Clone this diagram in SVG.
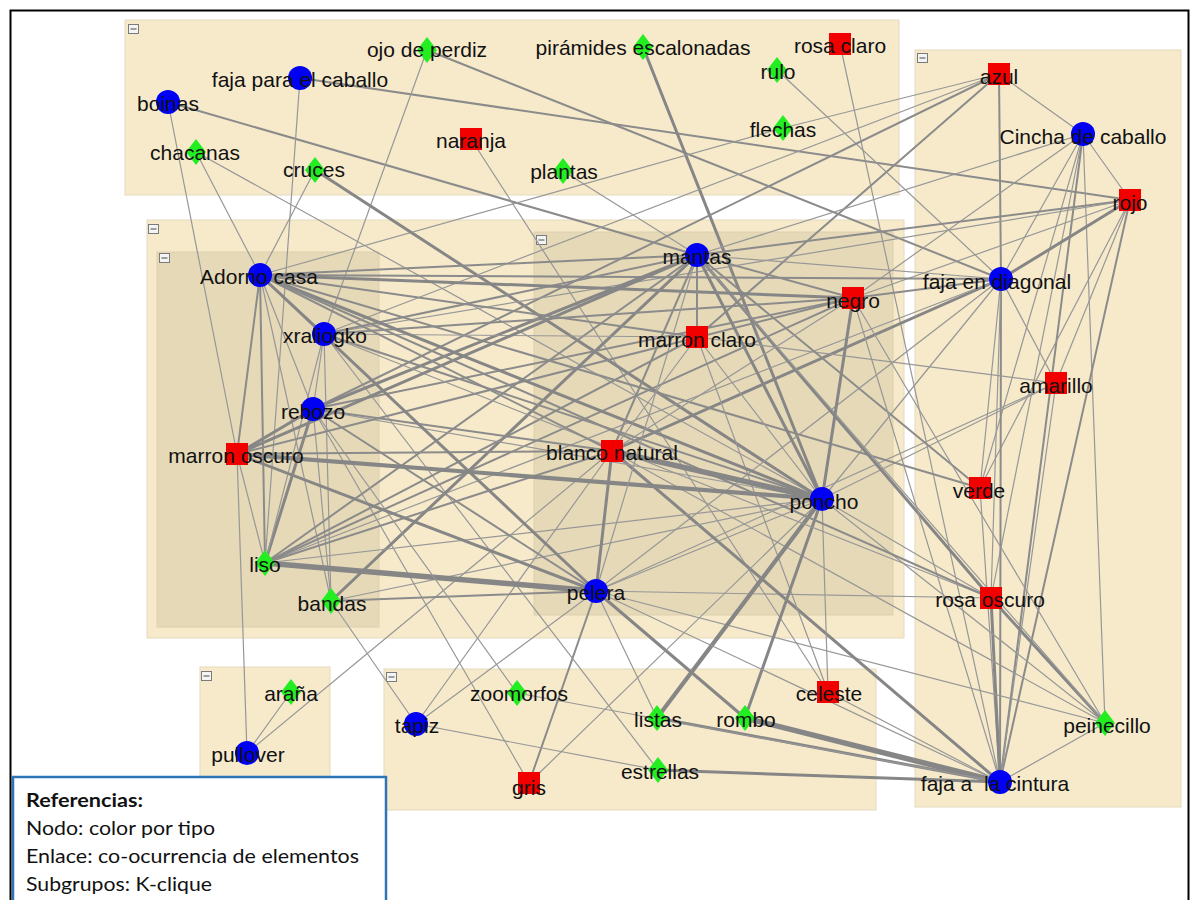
<svg xmlns="http://www.w3.org/2000/svg" xmlns:xlink="http://www.w3.org/1999/xlink" width="1191" height="900" viewBox="0 0 1191 900">
  <style>
    .grp { fill: #F6EACB; stroke: #E6DABD; stroke-width: 1; }
    .sub { fill: #E6D9B8; stroke: #DCCFAE; stroke-width: 1; }
    .ico { fill: #F4F4F4; stroke: #7A7A7A; stroke-width: 1; }
    .icoline { stroke: #666; stroke-width: 1.2; }
    #edges line { stroke-linecap: round; }
    .t { stroke: #979797; stroke-width: 1.2; }
    .m { stroke: #8B8B8B; stroke-width: 2; }
    .k { stroke: #868686; stroke-width: 3; }
    .h { stroke: #868686; stroke-width: 4.2; }
    .x { stroke: #868686; stroke-width: 5.5; }
    .lbl { font-family: "Liberation Sans", Arial, sans-serif; font-size: 21px; fill: #111; text-anchor: middle; }
    .leg { font-family: Lato, "Open Sans", sans-serif; font-size: 19px; fill: #111; }
  </style>
  <defs>
    <circle id="c" r="12" fill="#0000F5"/>
    <rect id="s" x="-11" y="-11" width="22" height="22" fill="#F20000"/>
    <polygon id="d" points="0,-13 10,0 0,13 -10,0" fill="#22EE22"/>
    <g id="ic">
      <rect class="ico" x="0.5" y="0.5" width="10" height="9"/>
      <line class="icoline" x1="2.5" y1="5" x2="8.5" y2="5"/>
    </g>
  </defs>

  <rect width="1191" height="900" fill="#FFFFFF"/>

  <!-- subgroup boxes -->
  <g id="groups">
    <rect class="grp" x="125" y="20" width="774" height="175"/>
    <use xlink:href="#ic" x="128" y="24"/>
    <rect class="grp" x="147" y="220" width="757" height="418"/>
    <use xlink:href="#ic" x="148" y="224"/>
    <rect class="sub" x="157" y="252" width="222" height="375"/>
    <use xlink:href="#ic" x="159" y="253"/>
    <rect class="sub" x="534" y="232" width="359" height="383"/>
    <use xlink:href="#ic" x="536" y="235"/>
    <rect class="grp" x="915" y="50" width="266" height="757"/>
    <use xlink:href="#ic" x="917" y="53"/>
    <rect class="grp" x="200" y="667" width="130" height="120"/>
    <use xlink:href="#ic" x="201" y="671"/>
    <rect class="grp" x="384" y="669" width="492" height="141"/>
    <use xlink:href="#ic" x="386" y="672"/>
  </g>

  <!-- co-occurrence links -->
  <g id="edges">
    <line x1="168" y1="102" x2="237" y2="454" class="t"/>
    <line x1="168" y1="102" x2="697" y2="255" class="m"/>
    <line x1="196" y1="152" x2="260" y2="275" class="t"/>
    <line x1="196" y1="152" x2="822" y2="499" class="t"/>
    <line x1="300" y1="78" x2="265" y2="563" class="t"/>
    <line x1="300" y1="78" x2="1130" y2="200" class="m"/>
    <line x1="427" y1="50" x2="324" y2="334" class="t"/>
    <line x1="427" y1="50" x2="1001" y2="279" class="m"/>
    <line x1="643" y1="47" x2="822" y2="499" class="k"/>
    <line x1="840" y1="44" x2="1000" y2="782" class="t"/>
    <line x1="777" y1="70" x2="1001" y2="279" class="t"/>
    <line x1="783" y1="128" x2="260" y2="275" class="t"/>
    <line x1="783" y1="128" x2="999" y2="74" class="t"/>
    <line x1="563" y1="171" x2="697" y2="255" class="t"/>
    <line x1="471" y1="139" x2="828" y2="692" class="t"/>
    <line x1="315" y1="170" x2="260" y2="275" class="t"/>
    <line x1="315" y1="170" x2="822" y2="499" class="k"/>
    <line x1="999" y1="74" x2="1001" y2="279" class="m"/>
    <line x1="999" y1="74" x2="1083" y2="134" class="t"/>
    <line x1="999" y1="74" x2="324" y2="334" class="t"/>
    <line x1="999" y1="74" x2="313" y2="409" class="m"/>
    <line x1="999" y1="74" x2="697" y2="337" class="m"/>
    <line x1="1083" y1="134" x2="1130" y2="200" class="t"/>
    <line x1="1083" y1="134" x2="1001" y2="279" class="t"/>
    <line x1="1083" y1="134" x2="697" y2="255" class="t"/>
    <line x1="1083" y1="134" x2="980" y2="488" class="t"/>
    <line x1="1083" y1="134" x2="991" y2="598" class="t"/>
    <line x1="1083" y1="134" x2="1000" y2="782" class="m"/>
    <line x1="1083" y1="134" x2="1105" y2="723" class="t"/>
    <line x1="1083" y1="134" x2="853" y2="298" class="t"/>
    <line x1="1130" y1="200" x2="1001" y2="279" class="k"/>
    <line x1="1130" y1="200" x2="697" y2="255" class="m"/>
    <line x1="1130" y1="200" x2="324" y2="334" class="t"/>
    <line x1="1130" y1="200" x2="853" y2="298" class="t"/>
    <line x1="1130" y1="200" x2="1000" y2="782" class="m"/>
    <line x1="1130" y1="200" x2="980" y2="488" class="t"/>
    <line x1="1130" y1="200" x2="1056" y2="383" class="t"/>
    <line x1="1001" y1="279" x2="1000" y2="782" class="m"/>
    <line x1="1001" y1="279" x2="1056" y2="383" class="t"/>
    <line x1="1001" y1="279" x2="980" y2="488" class="t"/>
    <line x1="1001" y1="279" x2="991" y2="598" class="t"/>
    <line x1="1001" y1="279" x2="853" y2="298" class="m"/>
    <line x1="1001" y1="279" x2="612" y2="451" class="k"/>
    <line x1="1001" y1="279" x2="697" y2="255" class="t"/>
    <line x1="1001" y1="279" x2="260" y2="275" class="m"/>
    <line x1="1001" y1="279" x2="265" y2="563" class="t"/>
    <line x1="1001" y1="279" x2="822" y2="499" class="t"/>
    <line x1="1001" y1="279" x2="596" y2="591" class="t"/>
    <line x1="1056" y1="383" x2="1000" y2="782" class="t"/>
    <line x1="1056" y1="383" x2="697" y2="337" class="t"/>
    <line x1="1056" y1="383" x2="596" y2="591" class="t"/>
    <line x1="1056" y1="383" x2="822" y2="499" class="t"/>
    <line x1="260" y1="275" x2="980" y2="488" class="m"/>
    <line x1="697" y1="255" x2="980" y2="488" class="m"/>
    <line x1="980" y1="488" x2="1000" y2="782" class="t"/>
    <line x1="596" y1="591" x2="991" y2="598" class="t"/>
    <line x1="697" y1="255" x2="991" y2="598" class="k"/>
    <line x1="991" y1="598" x2="1105" y2="723" class="k"/>
    <line x1="991" y1="598" x2="1000" y2="782" class="k"/>
    <line x1="1105" y1="723" x2="596" y2="591" class="t"/>
    <line x1="1105" y1="723" x2="822" y2="499" class="t"/>
    <line x1="1105" y1="723" x2="697" y2="255" class="t"/>
    <line x1="1105" y1="723" x2="612" y2="451" class="t"/>
    <line x1="1105" y1="723" x2="1000" y2="782" class="t"/>
    <line x1="853" y1="298" x2="1105" y2="723" class="t"/>
    <line x1="853" y1="298" x2="1000" y2="782" class="t"/>
    <line x1="612" y1="451" x2="1000" y2="782" class="k"/>
    <line x1="657" y1="718" x2="1000" y2="782" class="k"/>
    <line x1="745" y1="718" x2="1000" y2="782" class="x"/>
    <line x1="658" y1="770" x2="1000" y2="782" class="k"/>
    <line x1="828" y1="692" x2="1000" y2="782" class="t"/>
    <line x1="517" y1="693" x2="1000" y2="782" class="t"/>
    <line x1="697" y1="337" x2="828" y2="692" class="t"/>
    <line x1="822" y1="499" x2="828" y2="692" class="t"/>
    <line x1="822" y1="499" x2="657" y2="718" class="h"/>
    <line x1="822" y1="499" x2="745" y2="718" class="k"/>
    <line x1="596" y1="591" x2="745" y2="718" class="k"/>
    <line x1="596" y1="591" x2="529" y2="783" class="m"/>
    <line x1="529" y1="783" x2="822" y2="499" class="t"/>
    <line x1="529" y1="783" x2="313" y2="409" class="t"/>
    <line x1="324" y1="334" x2="658" y2="770" class="t"/>
    <line x1="416" y1="724" x2="658" y2="770" class="t"/>
    <line x1="331" y1="601" x2="416" y2="724" class="t"/>
    <line x1="416" y1="724" x2="596" y2="591" class="t"/>
    <line x1="416" y1="724" x2="612" y2="451" class="t"/>
    <line x1="237" y1="454" x2="247" y2="753" class="t"/>
    <line x1="247" y1="753" x2="291" y2="692" class="t"/>
    <line x1="247" y1="753" x2="612" y2="451" class="t"/>
    <line x1="331" y1="601" x2="260" y2="275" class="t"/>
    <line x1="331" y1="601" x2="697" y2="255" class="k"/>
    <line x1="331" y1="601" x2="596" y2="591" class="m"/>
    <line x1="331" y1="601" x2="313" y2="409" class="t"/>
    <line x1="331" y1="601" x2="324" y2="334" class="t"/>
    <line x1="331" y1="601" x2="822" y2="499" class="t"/>
    <line x1="265" y1="563" x2="596" y2="591" class="x"/>
    <line x1="265" y1="563" x2="697" y2="255" class="m"/>
    <line x1="265" y1="563" x2="313" y2="409" class="k"/>
    <line x1="265" y1="563" x2="260" y2="275" class="m"/>
    <line x1="265" y1="563" x2="237" y2="454" class="t"/>
    <line x1="265" y1="563" x2="324" y2="334" class="t"/>
    <line x1="265" y1="563" x2="853" y2="298" class="m"/>
    <line x1="265" y1="563" x2="822" y2="499" class="t"/>
    <line x1="265" y1="563" x2="612" y2="451" class="m"/>
    <line x1="265" y1="563" x2="697" y2="337" class="m"/>
    <line x1="313" y1="409" x2="260" y2="275" class="t"/>
    <line x1="313" y1="409" x2="324" y2="334" class="t"/>
    <line x1="313" y1="409" x2="237" y2="454" class="k"/>
    <line x1="313" y1="409" x2="697" y2="255" class="k"/>
    <line x1="313" y1="409" x2="596" y2="591" class="m"/>
    <line x1="313" y1="409" x2="822" y2="499" class="t"/>
    <line x1="313" y1="409" x2="517" y2="693" class="t"/>
    <line x1="313" y1="409" x2="612" y2="451" class="m"/>
    <line x1="313" y1="409" x2="853" y2="298" class="m"/>
    <line x1="324" y1="334" x2="260" y2="275" class="m"/>
    <line x1="324" y1="334" x2="697" y2="255" class="m"/>
    <line x1="324" y1="334" x2="853" y2="298" class="m"/>
    <line x1="324" y1="334" x2="697" y2="337" class="t"/>
    <line x1="324" y1="334" x2="822" y2="499" class="m"/>
    <line x1="324" y1="334" x2="991" y2="598" class="t"/>
    <line x1="237" y1="454" x2="260" y2="275" class="m"/>
    <line x1="237" y1="454" x2="697" y2="255" class="k"/>
    <line x1="237" y1="454" x2="822" y2="499" class="h"/>
    <line x1="237" y1="454" x2="596" y2="591" class="k"/>
    <line x1="237" y1="454" x2="612" y2="451" class="m"/>
    <line x1="237" y1="454" x2="853" y2="298" class="m"/>
    <line x1="260" y1="275" x2="853" y2="298" class="k"/>
    <line x1="260" y1="275" x2="697" y2="255" class="m"/>
    <line x1="260" y1="275" x2="697" y2="337" class="m"/>
    <line x1="260" y1="275" x2="612" y2="451" class="m"/>
    <line x1="260" y1="275" x2="822" y2="499" class="k"/>
    <line x1="260" y1="275" x2="596" y2="591" class="k"/>
    <line x1="260" y1="275" x2="991" y2="598" class="m"/>
    <line x1="612" y1="451" x2="697" y2="255" class="m"/>
    <line x1="612" y1="451" x2="822" y2="499" class="x"/>
    <line x1="612" y1="451" x2="596" y2="591" class="k"/>
    <line x1="612" y1="451" x2="697" y2="337" class="t"/>
    <line x1="612" y1="451" x2="853" y2="298" class="t"/>
    <line x1="697" y1="255" x2="853" y2="298" class="m"/>
    <line x1="697" y1="255" x2="697" y2="337" class="m"/>
    <line x1="697" y1="255" x2="822" y2="499" class="k"/>
    <line x1="697" y1="255" x2="596" y2="591" class="t"/>
    <line x1="853" y1="298" x2="822" y2="499" class="k"/>
    <line x1="697" y1="337" x2="822" y2="499" class="t"/>
    <line x1="822" y1="499" x2="991" y2="598" class="t"/>
    <line x1="822" y1="499" x2="596" y2="591" class="t"/>
    <line x1="596" y1="591" x2="657" y2="718" class="t"/>
    <line x1="596" y1="591" x2="1000" y2="782" class="t"/>
  </g>

  <!-- nodes: blue = object, red = colour, green = motif -->
  <g id="n-boinas"><use xlink:href="#c" x="168" y="102"/><text class="lbl" x="168" y="111">boinas</text></g>
  <g id="n-faja-caballo"><use xlink:href="#c" x="300" y="78"/><text class="lbl" x="300" y="87">faja para el caballo</text></g>
  <g id="n-ojo-perdiz"><use xlink:href="#d" x="427" y="50"/><text class="lbl" x="427" y="57">ojo de perdiz</text></g>
  <g id="n-piramides"><use xlink:href="#d" x="643" y="47"/><text class="lbl" x="643" y="55">pirámides escalonadas</text></g>
  <g id="n-rosa-claro"><use xlink:href="#s" x="840" y="44"/><text class="lbl" x="840" y="53">rosa claro</text></g>
  <g id="n-rulo"><use xlink:href="#d" x="777" y="70"/><text class="lbl" x="778" y="79">rulo</text></g>
  <g id="n-flechas"><use xlink:href="#d" x="783" y="128"/><text class="lbl" x="783" y="137">flechas</text></g>
  <g id="n-naranja"><use xlink:href="#s" x="471" y="139"/><text class="lbl" x="471" y="148">naranja</text></g>
  <g id="n-plantas"><use xlink:href="#d" x="563" y="171"/><text class="lbl" x="564" y="179">plantas</text></g>
  <g id="n-chacanas"><use xlink:href="#d" x="196" y="152"/><text class="lbl" x="195" y="160">chacanas</text></g>
  <g id="n-cruces"><use xlink:href="#d" x="315" y="170"/><text class="lbl" x="314" y="177">cruces</text></g>

  <g id="n-azul"><use xlink:href="#s" x="999" y="74"/><text class="lbl" x="999" y="84">azul</text></g>
  <g id="n-cincha"><use xlink:href="#c" x="1083" y="134"/><text class="lbl" x="1083" y="144">Cincha de caballo</text></g>
  <g id="n-rojo"><use xlink:href="#s" x="1130" y="200"/><text class="lbl" x="1130" y="210">rojo</text></g>
  <g id="n-faja-diagonal"><use xlink:href="#c" x="1001" y="279"/><text class="lbl" x="997" y="289">faja en diagonal</text></g>
  <g id="n-amarillo"><use xlink:href="#s" x="1056" y="383"/><text class="lbl" x="1056" y="393">amarillo</text></g>
  <g id="n-verde"><use xlink:href="#s" x="980" y="488"/><text class="lbl" x="979" y="498">verde</text></g>
  <g id="n-rosa-oscuro"><use xlink:href="#s" x="991" y="598"/><text class="lbl" x="990" y="607">rosa oscuro</text></g>
  <g id="n-peinecillo"><use xlink:href="#d" x="1105" y="723"/><text class="lbl" x="1107" y="733">peinecillo</text></g>
  <g id="n-faja-cintura"><use xlink:href="#c" x="1000" y="782"/><text class="lbl" x="995" y="791" xml:space="preserve">faja a  la cintura</text></g>

  <g id="n-adorno-casa"><use xlink:href="#c" x="260" y="275"/><text class="lbl" x="259" y="284">Adorno casa</text></g>
  <g id="n-xraliogko"><use xlink:href="#c" x="324" y="334"/><text class="lbl" x="325" y="343">xraliogko</text></g>
  <g id="n-rebozo"><use xlink:href="#c" x="313" y="409"/><text class="lbl" x="313" y="419">rebozo</text></g>
  <g id="n-marron-oscuro"><use xlink:href="#s" x="237" y="454"/><text class="lbl" x="236" y="463">marron oscuro</text></g>
  <g id="n-liso"><use xlink:href="#d" x="265" y="563"/><text class="lbl" x="265" y="572">liso</text></g>
  <g id="n-bandas"><use xlink:href="#d" x="331" y="601"/><text class="lbl" x="332" y="611">bandas</text></g>

  <g id="n-mantas"><use xlink:href="#c" x="697" y="255"/><text class="lbl" x="697" y="264">mantas</text></g>
  <g id="n-negro"><use xlink:href="#s" x="853" y="298"/><text class="lbl" x="853" y="308">negro</text></g>
  <g id="n-marron-claro"><use xlink:href="#s" x="697" y="337"/><text class="lbl" x="697" y="347">marron claro</text></g>
  <g id="n-blanco-natural"><use xlink:href="#s" x="612" y="451"/><text class="lbl" x="612" y="460">blanco natural</text></g>
  <g id="n-poncho"><use xlink:href="#c" x="822" y="499"/><text class="lbl" x="824" y="509">poncho</text></g>
  <g id="n-pelera"><use xlink:href="#c" x="596" y="591"/><text class="lbl" x="596" y="600">pelera</text></g>

  <g id="n-arana"><use xlink:href="#d" x="291" y="692"/><text class="lbl" x="291" y="701">araña</text></g>
  <g id="n-pullover"><use xlink:href="#c" x="247" y="753"/><text class="lbl" x="248" y="762">pullover</text></g>

  <g id="n-tapiz"><use xlink:href="#c" x="416" y="724"/><text class="lbl" x="417" y="733">tapiz</text></g>
  <g id="n-zoomorfos"><use xlink:href="#d" x="517" y="693"/><text class="lbl" x="519" y="701">zoomorfos</text></g>
  <g id="n-listas"><use xlink:href="#d" x="657" y="718"/><text class="lbl" x="658" y="727">listas</text></g>
  <g id="n-rombo"><use xlink:href="#d" x="745" y="718"/><text class="lbl" x="746" y="727">rombo</text></g>
  <g id="n-celeste"><use xlink:href="#s" x="828" y="692"/><text class="lbl" x="829" y="701">celeste</text></g>
  <g id="n-estrellas"><use xlink:href="#d" x="658" y="770"/><text class="lbl" x="660" y="779">estrellas</text></g>
  <g id="n-gris"><use xlink:href="#s" x="529" y="783"/><text class="lbl" x="529" y="795">gris</text></g>

  <!-- legend -->
  <g id="legend">
    <rect x="13" y="777" width="373" height="140" fill="#FFFFFF" stroke="#2E75B6" stroke-width="2.5"/>
    <text class="leg" x="26" y="807" font-weight="bold" textLength="117" lengthAdjust="spacingAndGlyphs">Referencias:</text>
    <text class="leg" x="26" y="835" textLength="189" lengthAdjust="spacingAndGlyphs">Nodo: color por tipo</text>
    <text class="leg" x="26" y="863" textLength="333" lengthAdjust="spacingAndGlyphs">Enlace: co-ocurrencia de elementos</text>
    <text class="leg" x="26" y="891" textLength="186" lengthAdjust="spacingAndGlyphs">Subgrupos: K-clique</text>
  </g>

  <!-- outer frame -->
  <rect x="10.5" y="10.5" width="1178" height="900" fill="none" stroke="#000" stroke-width="2"/>
</svg>
